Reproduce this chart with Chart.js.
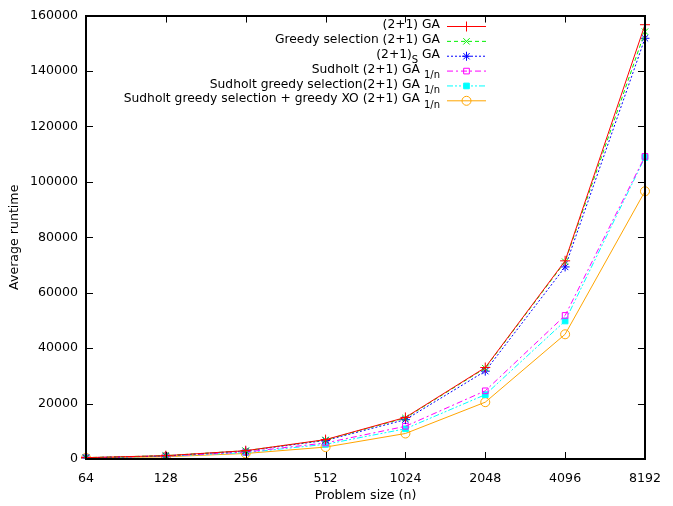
<!DOCTYPE html>
<html>
<head>
<meta charset="utf-8">
<script src="https://cdn.jsdelivr.net/npm/chart.js@4"></script>
<style>
html,body{margin:0;padding:0;background:#fff;}
#wrap{width:673px;height:506px;}
</style>
</head>
<body>
<div id="wrap"><canvas id="c" width="673" height="506"></canvas></div>
<script>
const sizes = ['64','128','256','512','1024','2048','4096','8192'];
const yTicks = [0,20000,40000,60000,80000,100000,120000,140000,160000];

const ga21      = [500, 1200, 3000, 7000, 15000, 33000, 71500, 156700];
const greedy21  = [500, 1200, 3000, 6900, 14800, 32800, 71200, 154200];
const s21       = [450, 1150, 2900, 6700, 14200, 31700, 69300, 151800];
const sud21     = [450, 1050, 2500, 5800, 11800, 24600, 51800, 109200];
const sudGreedy = [430, 1000, 2300, 5300, 10900, 23200, 49800, 108800];
const sudXO     = [400,  800, 2000, 4300,  9200, 20500, 45000,  96600];

const labelsPlain = [
  '(2+1) GA',
  'Greedy selection (2+1) GA',
  '(2+1)S GA',
  'Sudholt (2+1) GA 1/n',
  'Sudholt greedy selection(2+1) GA 1/n',
  'Sudholt greedy selection + greedy XO (2+1) GA 1/n'
];
const labelParts = [
  [{t:'(2+1) GA'}],
  [{t:'Greedy selection (2+1) GA'}],
  [{t:'(2+1)'},{t:'S',sub:true},{t:' GA'}],
  [{t:'Sudholt (2+1) GA '},{t:'1/n',sub:true}],
  [{t:'Sudholt greedy selection(2+1) GA '},{t:'1/n',sub:true}],
  [{t:'Sudholt greedy selection + greedy XO (2+1) GA '},{t:'1/n',sub:true}]
];

const FONT = '"DejaVu Sans", sans-serif';
const FS = 12.6;

function ds(label, data, color, dash, style, radius, fill){
  return {
    label, data, borderColor: color, backgroundColor: fill ? color : 'rgba(0,0,0,0)',
    borderWidth: 1, borderDash: dash, pointStyle: style, pointRadius: radius,
    pointBorderWidth: 1, pointBorderColor: color,
    pointBackgroundColor: fill ? color : 'rgba(0,0,0,0)', tension: 0, fill: false
  };
}

const datasets = [
  ds(labelsPlain[0], ga21, '#ff0000', [], 'cross', 5, false),
  ds(labelsPlain[1], greedy21, '#00f000', [4,3], 'crossRot', 4.5, false),
  ds(labelsPlain[2], s21, '#0000ff', [2,2], 'star', 4.5, false),
  ds(labelsPlain[3], sud21, '#ff00ff', [6,3,2,3], 'rect', 4, false),
  ds(labelsPlain[4], sudGreedy, '#00ffff', [6,2,2,2,2,2], 'rect', 4, true),
  ds(labelsPlain[5], sudXO, '#ffa500', [], 'circle', 4.5, false)
];

const framePlugin = {
  id: 'frame',
  afterDatasetsDraw(chart){
    const {ctx, chartArea: a, scales} = chart;
    ctx.save();
    ctx.strokeStyle = '#000';
    ctx.lineWidth = 1;
    ctx.beginPath();
    const tl = 7;
    scales.y.ticks.forEach((t) => {
      const y = Math.round(scales.y.getPixelForValue(t.value)) + 0.5;
      ctx.moveTo(a.left, y); ctx.lineTo(a.left + tl, y);
      ctx.moveTo(a.right, y); ctx.lineTo(a.right - tl, y);
    });
    sizes.forEach((s, i) => {
      const x = Math.round(scales.x.getPixelForValue(i)) + 0.5;
      ctx.moveTo(x, a.bottom); ctx.lineTo(x, a.bottom - tl);
      ctx.moveTo(x, a.top); ctx.lineTo(x, a.top + tl);
    });
    ctx.stroke();
    ctx.lineWidth = 2;
    ctx.strokeRect(Math.round(a.left), Math.round(a.top), Math.round(a.right - a.left), Math.round(a.bottom - a.top));
    ctx.restore();
  }
};

const legendPlugin = {
  id: 'gnuLegend',
  afterDatasetsDraw(chart){
    const ctx = chart.ctx;
    const textRight = 440, lineL = 447, lineR = 486, y0 = 26, dy = 14.86;
    ctx.save();
    chart.data.datasets.forEach((d, i) => {
      const y = y0 + i * dy;
      const parts = labelParts[i];
      const fontOf = p => (p.sub ? '10px ' : '12.3px ') + FONT;
      let widths = parts.map(p => { ctx.font = fontOf(p); return ctx.measureText(p.t).width; });
      let x = textRight - widths.reduce((s, w) => s + w, 0);
      ctx.fillStyle = '#000';
      ctx.textBaseline = 'middle';
      ctx.textAlign = 'left';
      parts.forEach((p, k) => {
        ctx.font = fontOf(p);
        ctx.fillText(p.t, x, p.sub ? y + 5 : y - 1);
        x += widths[k];
      });
      ctx.strokeStyle = d.borderColor;
      ctx.lineWidth = 1;
      ctx.setLineDash(d.borderDash);
      ctx.beginPath();
      ctx.moveTo(lineL, y + 0.5); ctx.lineTo(lineR, y + 0.5);
      ctx.stroke();
      ctx.setLineDash([]);
      ctx.fillStyle = d.pointBackgroundColor;
      Chart.helpers.drawPoint(ctx, {pointStyle: d.pointStyle, radius: d.pointRadius, borderWidth: 1}, (lineL + lineR) / 2, y + 0.5);
    });
    ctx.restore();
  }
};

new Chart(document.getElementById('c'), {
  type: 'line',
  data: { labels: sizes, datasets },
  options: {
    responsive: false,
    animation: false,
    devicePixelRatio: 1,
    layout: { padding: { left: 0, right: 18, top: 14, bottom: 0 } },
    plugins: { legend: { display: false }, tooltip: { enabled: false } },
    scales: {
      x: {
        type: 'category',
        offset: false,
        grid: { display: false, drawTicks: false },
        border: { display: false },
        ticks: { color: '#000', font: { family: FONT, size: FS }, padding: 12, maxRotation: 0, autoSkip: false },
        title: { display: true, text: 'Problem size (n)', color: '#000', font: { family: FONT, size: FS }, padding: { top: 4, bottom: 3 } },
        afterFit(s){ s.height = 47; }
      },
      y: {
        min: 0, max: 160000,
        grid: { display: false, drawTicks: false },
        border: { display: false },
        afterBuildTicks(s){ s.ticks = yTicks.map(v => ({ value: v })); },
        ticks: { color: '#000', font: { family: FONT, size: FS }, padding: 8, callback: v => String(v) },
        title: { display: true, text: 'Average runtime', color: '#000', font: { family: FONT, size: FS }, padding: { top: 7, bottom: 0 } },
        afterFit(s){ s.width = 86; }
      }
    }
  },
  plugins: [framePlugin, legendPlugin]
});
</script>
</body>
</html>
